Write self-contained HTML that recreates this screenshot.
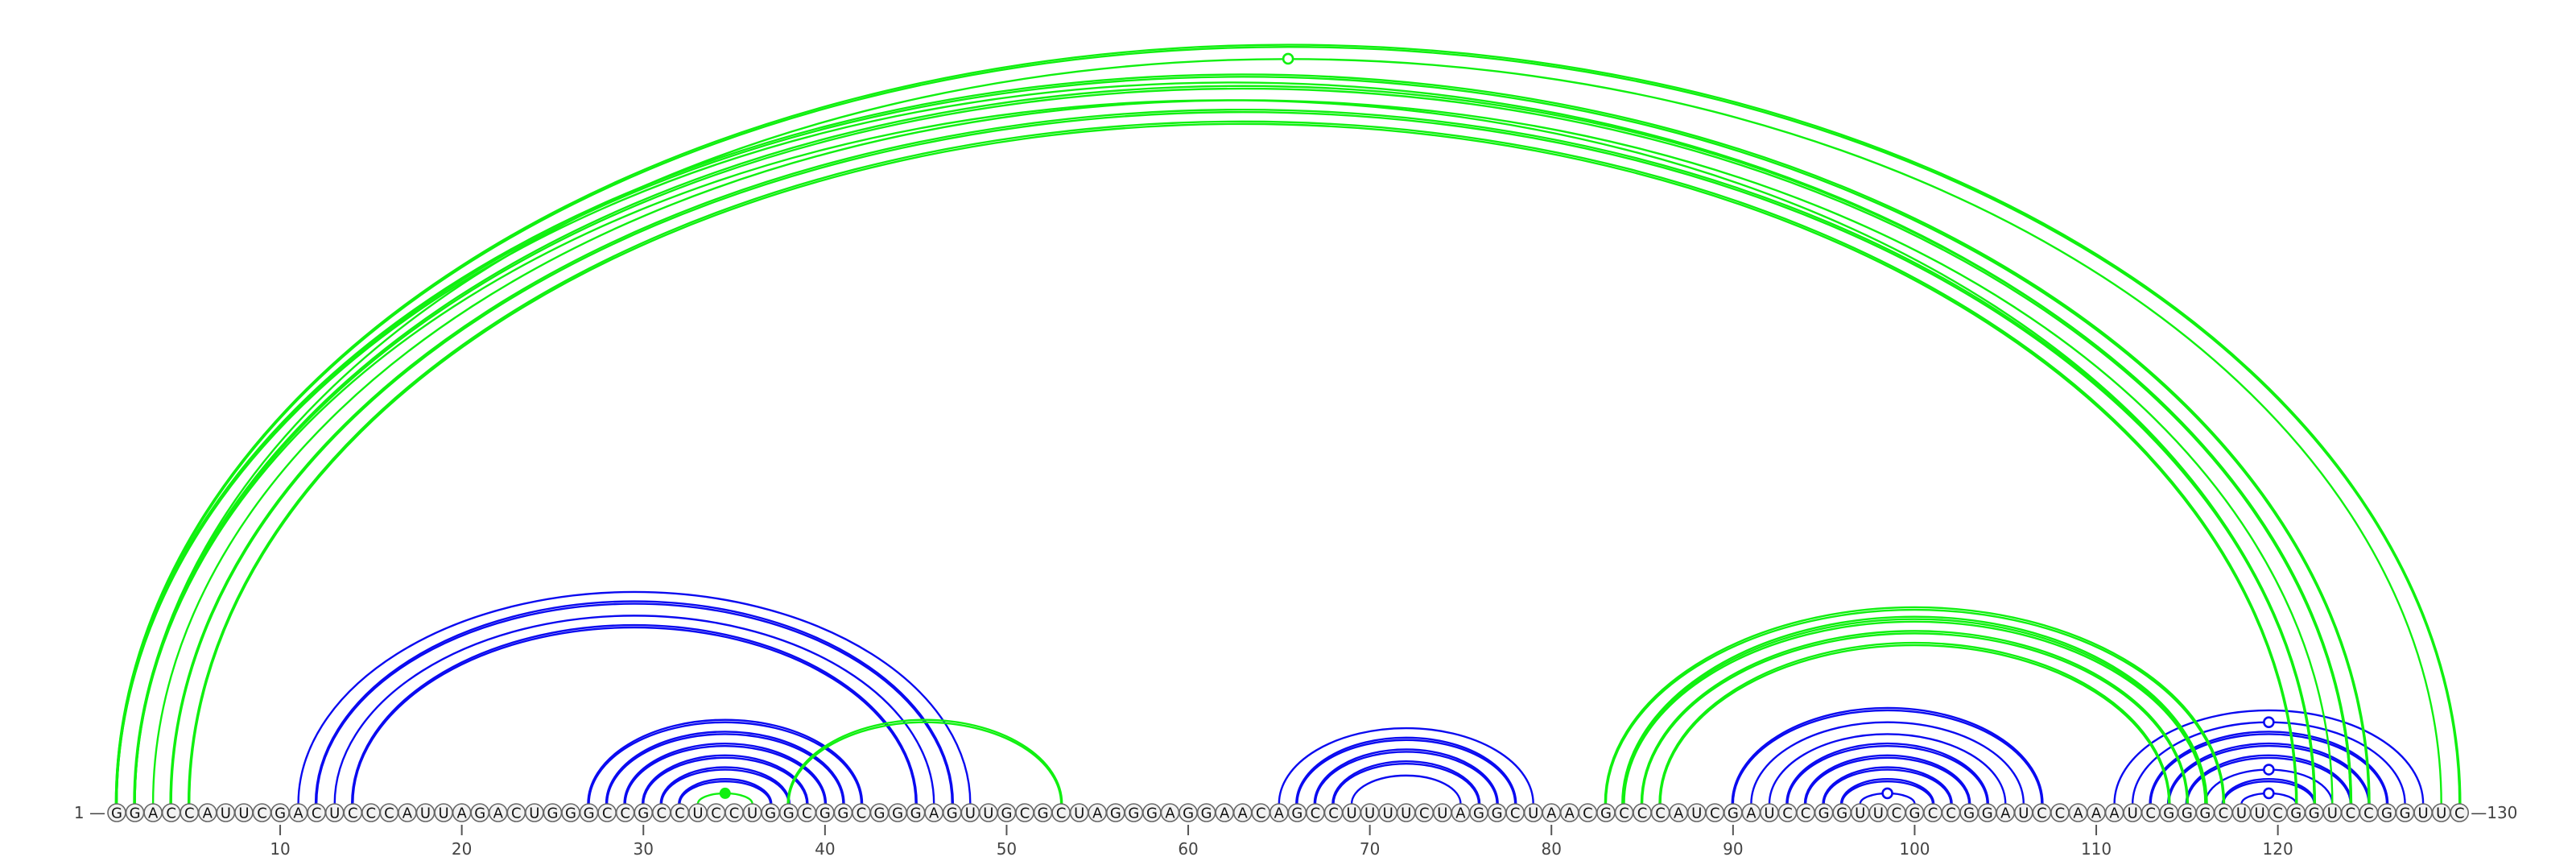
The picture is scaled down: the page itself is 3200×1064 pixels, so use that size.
<!DOCTYPE html>
<html><head><meta charset="utf-8"><style>
html,body{margin:0;padding:0;background:#fff;}
svg{display:block;}
</style></head><body>
<svg id="chart" width="3200" height="1064" viewBox="0 0 3200 1064" xmlns="http://www.w3.org/2000/svg">
<g id="arcs"></g>
<g id="nts"></g>
<g id="axis"></g>
</svg>
<script>
const sequence = "GGACCAUUCGACUCCCAUUAGACUGGGCCGCCUCCUGGCGGCGGGAGUUGCGCUAGGGAGGAACAGCCUUUUCUAGGCUAACGCCCAUCGAUCCGGUUCGCCGGAUCCAAAUCGGGCUUCGGUCCGGUUC";
const blueI = [11,12,13,14, 27,28,29,30,31,32, 65,66,67,68,69, 90,91,92,93,94,95,96,97, 111,112,113,114,115,116,117,118];
const blueJ = [48,47,46,45, 42,41,40,39,38,37, 79,78,77,76,75, 107,106,105,104,103,102,101,100, 128,127,126,125,124,123,122,121];
const blueN = [1,2,1,2, 2,2,2,2,2,2, 1,2,2,2,1, 2,1,1,2,2,2,2,1, 1,1,2,2,2,1,2,1];
const blueMark = [0,0,0,0, 0,0,0,0,0,0, 0,0,0,0,0, 0,0,0,0,0,0,0,1, 0,1,0,0,0,1,0,1];
const greenI = [1,2, 1,2,3,4,5,1,2, 33, 38, 83,84,85,86];
const greenJ = [130,129, 125,124,123,122,121,124,122, 36, 53, 117,116,115,114];
const greenN = [2,1, 2,2,1,2,2,1,1, 1, 2, 2,3,2,2];
const greenMark = [0,1, 0,0,0,0,0,0,0, 2, 0, 0,0,0,0];
const tickValues = [10,20,30,40,50,60,70,80,90,100,110,120];

const NS = "http://www.w3.org/2000/svg";
const X0 = 145, STEP = 22.56, YC = 1009, Y0 = 998, R = 11;
function xPos(i){ return X0 + (i-1)*STEP; }
function ry(rx){ return Math.max(6, 0.652*rx - 9); }
const arcsG = document.getElementById('arcs');
const ntsG = document.getElementById('nts');
const axisG = document.getElementById('axis');

function drawArcs(I,J,N,M,color,name){
  for(let a=0;a<I.length;a++){
    const x1 = xPos(I[a]), x2 = xPos(J[a]);
    const rx = (x2-x1)/2, h = ry(rx);
    for(let k=0;k<N[a];k++){
      const p = document.createElementNS(NS,'path');
      const ox = k*1.1, oy = k*3;
      p.setAttribute('d', `M${x1-ox},${Y0} A${rx+ox},${h+oy} 0 0 1 ${x2+ox},${Y0}`);
      p.setAttribute('fill','none');
      p.setAttribute('stroke',color);
      p.setAttribute('stroke-width','2.4');
      
      
      arcsG.appendChild(p);
    }
    if(M[a]){
      const c = document.createElementNS(NS,'circle');
      c.setAttribute('cx', (x1+x2)/2);
      c.setAttribute('cy', Y0 - h);
      if(M[a]===1){ c.setAttribute('r','6'); c.setAttribute('fill','#fff'); c.setAttribute('stroke',color); c.setAttribute('stroke-width','2.6'); }
      else { c.setAttribute('r','7'); c.setAttribute('fill',color); }
      
      
      arcsG.appendChild(c);
    }
  }
}
drawArcs(blueI,blueJ,blueN,blueMark,'#0a0af0','blue-arc');
drawArcs(greenI,greenJ,greenN,greenMark,'#10f010','green-arc');

for(let i=1;i<=sequence.length;i++){
  const g = document.createElementNS(NS,'g');
  
  
  const c = document.createElementNS(NS,'circle');
  c.setAttribute('cx', xPos(i)); c.setAttribute('cy', YC); c.setAttribute('r', R);
  c.setAttribute('fill','#f2f2f2'); c.setAttribute('stroke','#666'); c.setAttribute('stroke-width','1.6');
  g.appendChild(c);
  const t = document.createElementNS(NS,'text');
  t.setAttribute('x', xPos(i)); t.setAttribute('y', YC+6.5);
  t.setAttribute('text-anchor','middle');
  t.setAttribute('font-family','DejaVu Sans, Liberation Sans, sans-serif');
  t.setAttribute('font-size','18'); t.setAttribute('fill','#111');
  t.textContent = sequence[i-1];
  g.appendChild(t);
  ntsG.appendChild(g);
}

tickValues.forEach(v=>{
  const l = document.createElementNS(NS,'line');
  l.setAttribute('x1', xPos(v)); l.setAttribute('x2', xPos(v));
  l.setAttribute('y1', 1024); l.setAttribute('y2', 1037);
  l.setAttribute('stroke','#555'); l.setAttribute('stroke-width','2');
  
  
  axisG.appendChild(l);
  const t = document.createElementNS(NS,'text');
  t.setAttribute('x', xPos(v)); t.setAttribute('y', 1061);
  t.setAttribute('text-anchor','middle');
  t.setAttribute('font-family','DejaVu Sans, Liberation Sans, sans-serif');
  t.setAttribute('font-size','20'); t.setAttribute('fill','#444');
  t.textContent = v;
  
  
  axisG.appendChild(t);
});

function endLabel(txt, x, anchor, name){
  const t = document.createElementNS(NS,'text');
  t.setAttribute('x', x); t.setAttribute('y', YC+7);
  t.setAttribute('text-anchor', anchor);
  t.setAttribute('font-family','DejaVu Sans, Liberation Sans, sans-serif');
  t.setAttribute('font-size','20'); t.setAttribute('fill','#444');
  t.textContent = txt;
  
  
  axisG.appendChild(t);
}
endLabel('1 \u2014', xPos(1)-R-3, 'end', 'start-label');
endLabel('\u2014130', xPos(130)+R+3, 'start', 'end-label');
</script>
</body></html>
